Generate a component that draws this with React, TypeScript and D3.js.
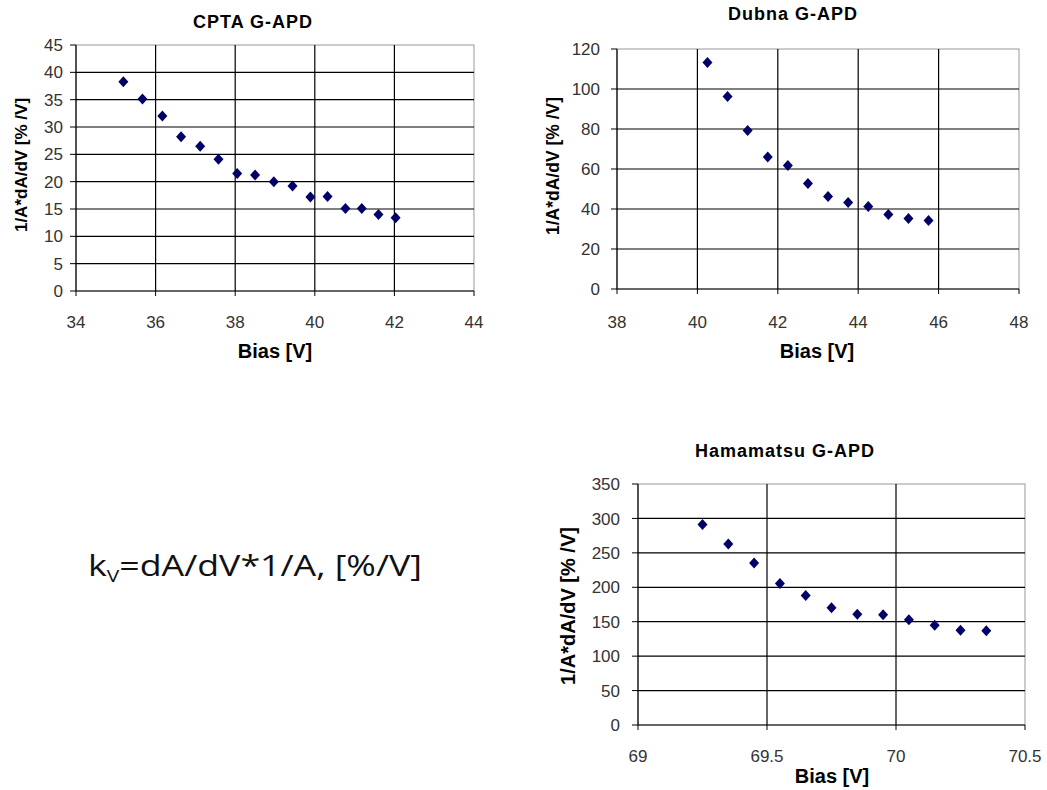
import React from 'react';
import * as d3 from 'd3';

// CPTA G-APD
const cptaBias = [35.19, 35.67, 36.17, 36.64, 37.12, 37.58, 38.05, 38.5, 38.97, 39.44, 39.89, 40.32, 40.77, 41.18, 41.6, 42.03];
const cptaK = [38.3, 35.1, 32.0, 28.2, 26.5, 24.1, 21.5, 21.2, 20.0, 19.2, 17.2, 17.3, 15.1, 15.1, 14.0, 13.4];
const cptaXTicks = [34, 36, 38, 40, 42, 44];
const cptaYTicks = [0, 5, 10, 15, 20, 25, 30, 35, 40, 45];

// Dubna G-APD
const dubnaBias = [40.25, 40.75, 41.25, 41.75, 42.25, 42.75, 43.25, 43.75, 44.25, 44.75, 45.25, 45.75];
const dubnaK = [113.3, 96.3, 79.2, 66.0, 61.8, 52.7, 46.3, 43.3, 41.3, 37.2, 35.2, 34.2];
const dubnaXTicks = [38, 40, 42, 44, 46, 48];
const dubnaYTicks = [0, 20, 40, 60, 80, 100, 120];

// Hamamatsu G-APD
const hamaBias = [69.25, 69.35, 69.45, 69.55, 69.65, 69.75, 69.85, 69.95, 70.05, 70.15, 70.25, 70.35];
const hamaK = [291.3, 262.7, 235.1, 205.5, 188.1, 170.1, 160.9, 160.0, 152.7, 144.9, 137.7, 136.7];
const hamaXTicks = [69, 69.5, 70, 70.5];
const hamaYTicks = [0, 50, 100, 150, 200, 250, 300, 350];

const xTitle = 'Bias [V]';
const yTitle = '1/A*dA/dV [% /V]';

const markerColor = '#000066';
const font = 'Arial, "Liberation Sans", sans-serif';

type PanelProps = {
  title: string;
  xs: number[];
  ys: number[];
  xTicks: number[];
  yTicks: number[];
  box: { left: number; right: number; top: number; bottom: number };
  titleAt: [number, number];
  xTitleAt: [number, number];
  yTitleAt: [number, number];
  xTickY: number;
  yTickGap: number;
  yTitleSize: number;
};

const Panel = (p: PanelProps) => {
  const { box } = p;
  const x = d3.scaleLinear()
    .domain(d3.extent(p.xTicks) as [number, number])
    .range([box.left, box.right]);
  const y = d3.scaleLinear()
    .domain(d3.extent(p.yTicks) as [number, number])
    .range([box.bottom, box.top]);

  const diamond = (cx: number, cy: number) =>
    `M${cx},${cy - 5.5}L${cx + 5},${cy}L${cx},${cy + 5.5}L${cx - 5},${cy}Z`;

  return (
    <g>
      {/* plot border */}
      <rect x={box.left} y={box.top} width={box.right - box.left} height={box.bottom - box.top}
        fill="none" stroke="#999" strokeWidth={1} />

      {/* grid */}
      {p.yTicks.slice(1, -1).map(t => (
        <line key={'h' + t} x1={box.left} x2={box.right} y1={y(t)} y2={y(t)} stroke="#000" strokeWidth={1.2} />
      ))}
      {p.xTicks.slice(1, -1).map(t => (
        <line key={'v' + t} y1={box.top} y2={box.bottom} x1={x(t)} x2={x(t)} stroke="#000" strokeWidth={1.2} />
      ))}

      {/* axes */}
      <line x1={box.left} x2={box.right} y1={box.bottom} y2={box.bottom} stroke="#000" strokeWidth={1.2} />
      <line x1={box.left} x2={box.left} y1={box.top} y2={box.bottom} stroke="#000" strokeWidth={1.2} />

      {p.yTicks.map(t => (
        <g key={'yt' + t}>
          <line x1={box.left - 6} x2={box.left} y1={y(t)} y2={y(t)} stroke="#000" />
          <text x={box.left - p.yTickGap} y={y(t)} dy="0.36em" textAnchor="end"
            fontFamily={font} fontSize={17} fill="#333">{t}</text>
        </g>
      ))}
      {p.xTicks.map(t => (
        <g key={'xt' + t}>
          <line x1={x(t)} x2={x(t)} y1={box.bottom} y2={box.bottom + 5} stroke="#000" />
          <text x={x(t)} y={p.xTickY} textAnchor="middle"
            fontFamily={font} fontSize={17} fill="#333">{t}</text>
        </g>
      ))}

      {/* points */}
      {p.xs.map((v, i) => (
        <path key={'pt' + i} d={diamond(x(v), y(p.ys[i]))} fill={markerColor} />
      ))}

      {/* titles */}
      <text x={p.titleAt[0]} y={p.titleAt[1]} textAnchor="middle" fontFamily={font}
        fontWeight="bold" fontSize={18} letterSpacing={1}>{p.title}</text>
      <text x={p.xTitleAt[0]} y={p.xTitleAt[1]} textAnchor="middle" fontFamily={font}
        fontWeight="bold" fontSize={20}>{xTitle}</text>
      <text transform={`translate(${p.yTitleAt[0]},${p.yTitleAt[1]}) rotate(-90)`} textAnchor="middle"
        dy="0.35em" fontFamily={font} fontWeight="bold" fontSize={p.yTitleSize}>{yTitle}</text>
    </g>
  );
};

export default function App() {
  return (
    <svg width={1047} height={790} style={{ position: 'absolute', left: 0, top: 0, background: '#fff' }}>
      <Panel title="CPTA G-APD" xs={cptaBias} ys={cptaK} xTicks={cptaXTicks} yTicks={cptaYTicks}
        box={{ left: 76, right: 474, top: 45, bottom: 291 }}
        titleAt={[253, 28]} xTitleAt={[275, 358]} yTitleAt={[21, 165]}
        xTickY={328} yTickGap={13} yTitleSize={17} />
      <Panel title="Dubna G-APD" xs={dubnaBias} ys={dubnaK} xTicks={dubnaXTicks} yTicks={dubnaYTicks}
        box={{ left: 617, right: 1019, top: 49, bottom: 289 }}
        titleAt={[793, 20]} xTitleAt={[817, 358]} yTitleAt={[553, 166]}
        xTickY={328} yTickGap={17} yTitleSize={17.5} />
      <Panel title="Hamamatsu G-APD" xs={hamaBias} ys={hamaK} xTicks={hamaXTicks} yTicks={hamaYTicks}
        box={{ left: 638, right: 1025, top: 484, bottom: 725 }}
        titleAt={[785, 457]} xTitleAt={[832, 783]} yTitleAt={[568, 606]}
        xTickY={762} yTickGap={18} yTitleSize={20} />

      <text x={88} y={576} fontFamily='"Open Sans", "Noto Sans", sans-serif' fontSize={29} fill="#111"
        textLength={334} lengthAdjust="spacingAndGlyphs">
        k<tspan fontSize={17} dy={6}>V</tspan><tspan dy={-6}>=dA/dV*1/A, [%/V]</tspan>
      </text>
    </svg>
  );
}
